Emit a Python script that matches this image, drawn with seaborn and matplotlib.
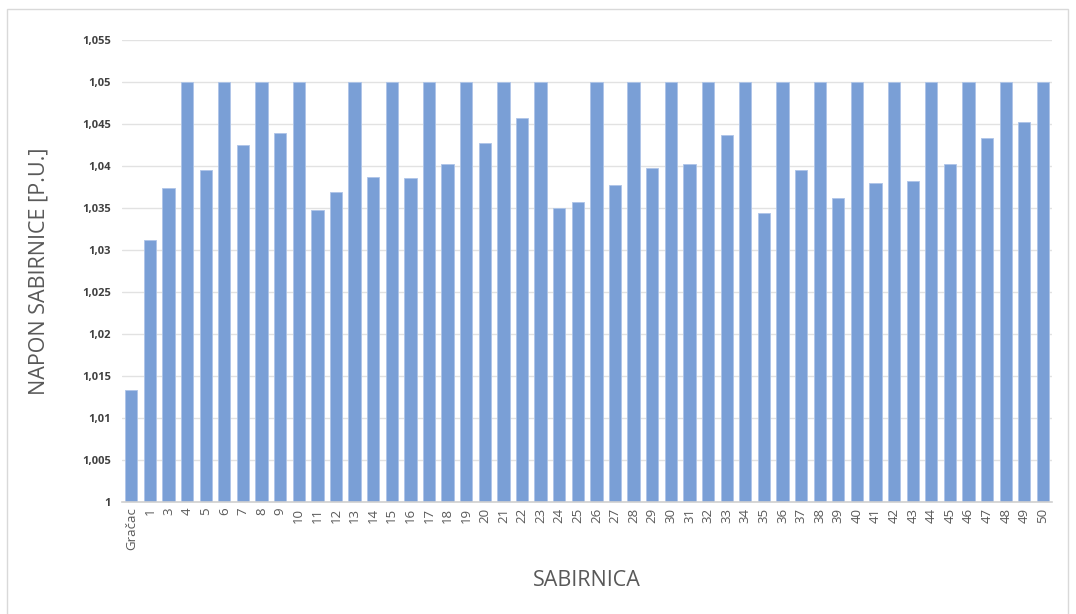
import numpy as np
import matplotlib
matplotlib.use("Agg")
import matplotlib.pyplot as plt
import matplotlib.ticker as mtick
import pandas as pd
import seaborn as sb

# bus names and voltages [p.u.]
sabirnice = ["Gračac", "1"] + [str(i) for i in range(3, 51)]
napon = [1.0133, 1.0312, 1.0374, 1.05, 1.0395, 1.05, 1.0425, 1.05, 1.0439, 1.05,
         1.0348, 1.0369, 1.05, 1.0387, 1.05, 1.0386, 1.05, 1.0402, 1.05, 1.0427,
         1.05, 1.0457, 1.05, 1.0350, 1.0357, 1.05, 1.0377, 1.05, 1.0398, 1.05,
         1.0402, 1.05, 1.0437, 1.05, 1.0344, 1.05, 1.0395, 1.05, 1.0362, 1.05,
         1.0380, 1.05, 1.0382, 1.05, 1.0402, 1.05, 1.0433, 1.05, 1.0452, 1.05]

data = pd.DataFrame({"sabirnica": sabirnice, "napon": napon})

sb.set_style("white")
plt.rcParams['font.family'] = ['Open Sans', 'DejaVu Sans']

fig = plt.figure(figsize=(10.76, 6.14), dpi=100)
ax = fig.add_axes([0.1134, 0.1824, 0.8645, 0.7525])

sb.barplot(data=data, x="sabirnica", y="napon", color="#7a9fd6", saturation=1,
           width=0.66, ax=ax, edgecolor="#aec4e8", linewidth=0.6)

ax.set_ylim(1, 1.055)
ax.set_xlim(-0.5, len(sabirnice) - 0.5)
ax.set_yticks(np.arange(1, 1.0551, 0.005))
ax.yaxis.set_major_formatter(mtick.FuncFormatter(
    lambda v, p: ("%.3f" % v).rstrip("0").rstrip(".").replace(".", ",")))
ax.grid(axis="y", color="#e2e2e2", linewidth=1)
ax.set_axisbelow(True)
for s in ["top", "right", "left"]:
    ax.spines[s].set_visible(False)
ax.spines["bottom"].set_color("#d0d0d0")
ax.spines["bottom"].set_linewidth(1.2)

ax.tick_params(axis="y", length=0, pad=8, labelsize=8, labelcolor="#404040")
for t in ax.get_yticklabels():
    t.set_fontweight("bold")
ax.tick_params(axis="x", length=0, pad=4, labelsize=9.5, labelcolor="#595959",
               rotation=90)

ax.set_ylabel("NAPON SABIRNICE [P.U.]", fontsize=15.5, color="#595959", labelpad=23)
ax.set_xlabel("SABIRNICA", fontsize=15.5, color="#595959", labelpad=14)

# chart frame
fig.patches.append(plt.Rectangle((7 / 1076, -0.05), 1061 / 1076, 1 - 9 / 614 + 0.05,
                                 transform=fig.transFigure, fill=False,
                                 edgecolor="#d9d9d9", linewidth=1))

plt.savefig("out.png", dpi=100)
